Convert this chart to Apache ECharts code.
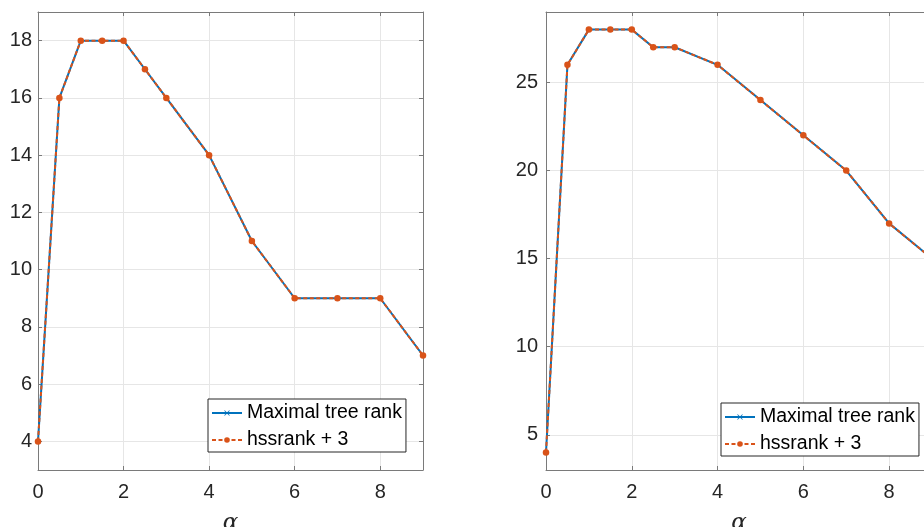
<!DOCTYPE html>
<html>
<head>
<meta charset="utf-8">
<script src="https://cdn.jsdelivr.net/npm/echarts@6/dist/echarts.min.js"></script>
<style>
  html, body { margin: 0; padding: 0; background: #fff; }
  #chart { width: 924px; height: 527px; }
</style>
</head>
<body>
<div id="chart"></div>
<script>
// alpha values shared by both panels
const alpha = [0, 0.5, 1, 1.5, 2, 2.5, 3, 4, 5, 6, 7, 8, 9];

// left panel
const leftTreeRank = [4, 16, 18, 18, 18, 17, 16, 14, 11, 9, 9, 9, 7];
const leftHssPlus3 = [4, 16, 18, 18, 18, 17, 16, 14, 11, 9, 9, 9, 7];

// right panel
const rightTreeRank = [4, 26, 28, 28, 28, 27, 27, 26, 24, 22, 20, 17, 15];
const rightHssPlus3 = [4, 26, 28, 28, 28, 27, 27, 26, 24, 22, 20, 17, 15];

const seriesNames = ['Maximal tree rank', 'hssrank + 3'];
const xLabel = 'α';

const BLUE = '#0072BD';
const ORANGE = '#D95319';
const TEXT = '#262626';
const BOX = '#7a7a7a';
const GRIDLINE = '#e6e6e6';
const FONT = '"Liberation Sans", Arial, sans-serif';

// thin "x" cross shape
const crossSymbol = 'path://M0,1 L1,0 L5,4 L9,0 L10,1 L6,5 L10,9 L9,10 L5,6 L1,10 L0,9 L4,5 Z';

const pairs = (xs, ys) => xs.map((x, i) => [x, ys[i]]);

const panels = [
  { grid: { left: 38, top: 12, width: 385, height: 458 }, yMin: 3, yMax: 19, yStep: 2, ySplit: 8,
    tree: leftTreeRank, hss: leftHssPlus3, yMargin: 6,
    legend: { left: 208, top: 399 } },
  { grid: { left: 546, top: 12, width: 386, height: 458 }, yMin: 3, yMax: 29, yStep: 5, ySplit: 5,
    tree: rightTreeRank, hss: rightHssPlus3, yMargin: 8,
    legend: { left: 721, top: 403 } }
];

const grid = [], xAxis = [], yAxis = [], series = [], legend = [];

panels.forEach((p, k) => {
  // fixed plot boxes; the right box runs past the canvas edge
  grid.push(Object.assign({ containLabel: false, outerBoundsMode: 'none' }, p.grid));

  const lineCommon = { show: true, onZero: false, lineStyle: { color: BOX, width: 1 } };
  const tickCommon = { show: true, inside: true, length: 4, lineStyle: { color: BOX, width: 1 } };

  // bottom x axis (labelled) and mirrored top axis
  xAxis.push({
    type: 'value', gridIndex: k, position: 'bottom', min: 0, max: 9, interval: 2,
    axisLine: lineCommon, axisTick: tickCommon,
    axisLabel: { color: TEXT, fontSize: 20, fontFamily: FONT, margin: 12,
                 formatter: v => (v % 2 === 0 ? String(v) : '') },
    splitLine: { show: true, lineStyle: { color: GRIDLINE, width: 1 } },
    name: xLabel, nameLocation: 'middle', nameGap: 42,
    nameTextStyle: { color: TEXT, fontSize: 23, fontStyle: 'italic', fontFamily: '"DejaVu Serif", serif' }
  });
  xAxis.push({
    type: 'value', gridIndex: k, position: 'top', min: 0, max: 9, interval: 2,
    axisLine: lineCommon, axisTick: tickCommon,
    axisLabel: { show: false }, splitLine: { show: false }
  });

  // left y axis (labelled) and mirrored right axis; the step is chosen
  // automatically so ticks stay on multiples of yStep
  const onStep = v => Math.abs(v % p.yStep) < 1e-9;
  const yCommon = {
    type: 'value', gridIndex: k, min: p.yMin, max: p.yMax,
    splitNumber: p.ySplit, minInterval: p.yStep, maxInterval: p.yStep,
    axisLine: lineCommon
  };
  yAxis.push(Object.assign({}, yCommon, {
    position: 'left',
    axisTick: Object.assign({}, tickCommon),
    axisLabel: { color: TEXT, fontSize: 20, fontFamily: FONT, margin: p.yMargin,
                 formatter: v => (onStep(v) ? String(v) : '') },
    splitLine: { show: true, lineStyle: { color: GRIDLINE, width: 1 } }
  }));
  yAxis.push(Object.assign({}, yCommon, {
    position: 'right',
    axisTick: Object.assign({}, tickCommon),
    axisLabel: { show: false }, splitLine: { show: false }
  }));

  series.push({
    name: seriesNames[0], type: 'line', xAxisIndex: 2 * k, yAxisIndex: 2 * k,
    data: pairs(alpha, p.tree),
    symbol: crossSymbol, symbolSize: 4, showAllSymbol: true,
    lineStyle: { color: BLUE, width: 2 }, itemStyle: { color: BLUE },
    emphasis: { disabled: true }, animation: false, z: 2
  });
  series.push({
    name: seriesNames[1], type: 'line', xAxisIndex: 2 * k, yAxisIndex: 2 * k,
    data: pairs(alpha, p.hss),
    symbol: 'circle', symbolSize: 6.5, showAllSymbol: true,
    lineStyle: { color: ORANGE, width: 2, type: [4, 2.5] },
    itemStyle: { color: ORANGE, borderWidth: 0 },
    emphasis: { disabled: true }, animation: false, z: 3
  });

  legend.push({
    left: p.legend.left, top: p.legend.top, orient: 'vertical',
    data: seriesNames, selectedMode: false,
    itemWidth: 30, itemHeight: 7, itemGap: 7, itemTextGap: 3,
    padding: [4, 4, 2, 3],
    backgroundColor: '#fff', borderColor: TEXT, borderWidth: 1,
    textStyle: { color: '#000', fontSize: 19.5, fontFamily: FONT, lineHeight: 20 }
  });
});

const chart = echarts.init(document.getElementById('chart'), null, { renderer: 'canvas' });
chart.setOption({
  animation: false,
  backgroundColor: '#fff',
  grid, xAxis, yAxis, series, legend
});
</script>
</body>
</html>
